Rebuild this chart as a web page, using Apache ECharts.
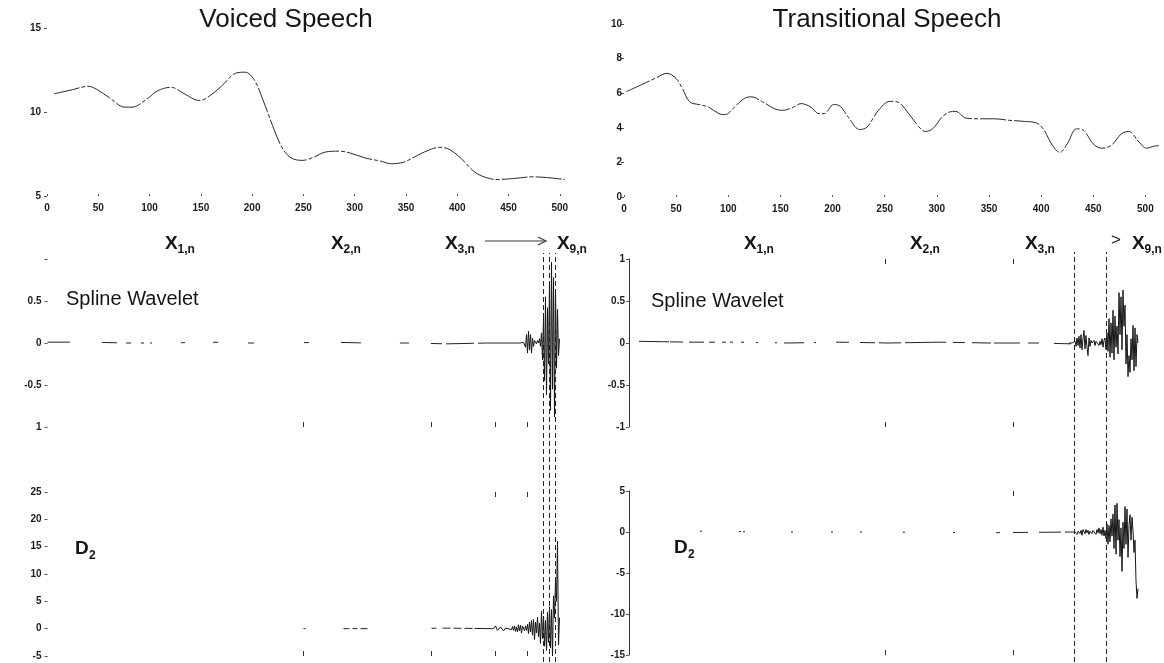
<!DOCTYPE html>
<html>
<head>
<meta charset="utf-8">
<script src="https://cdn.jsdelivr.net/npm/echarts@6/dist/echarts.min.js"></script>
<style>
  html, body { margin: 0; padding: 0; background: #fff; }
  #chart { width: 1164px; height: 663px; }
</style>
</head>
<body>
<div id="chart"></div>
<script>
// ---- Spectral envelopes: sample index and magnitude ----
const voicedEnvIdx = [7, 25, 40, 49, 61, 76, 83, 97, 108, 121, 134, 148, 155, 170, 184, 193, 202, 211, 220, 229, 238, 249, 260, 271, 285, 296, 310, 325, 336, 348, 361, 375, 384, 393, 404, 417, 428, 439, 455, 473, 487, 505];
const voicedEnvVal = [11.08, 11.33, 11.53, 11.33, 10.84, 10.29, 10.29, 10.75, 11.27, 11.47, 11.08, 10.69, 10.80, 11.53, 12.31, 12.37, 11.92, 10.65, 9.18, 7.90, 7.27, 7.12, 7.31, 7.61, 7.67, 7.55, 7.27, 7.08, 6.92, 7.02, 7.41, 7.80, 7.90, 7.75, 7.22, 6.43, 6.10, 5.98, 6.04, 6.14, 6.10, 5.98];

const transEnvIdx = [2, 16, 31, 41, 50, 56, 63, 72, 81, 91, 97, 106, 115, 122, 133, 144, 152, 161, 170, 179, 187, 192, 201, 206, 215, 226, 233, 244, 255, 262, 273, 283, 289, 296, 305, 312, 318, 328, 341, 355, 370, 384, 395, 402, 411, 418, 425, 434, 441, 450, 458, 467, 477, 484, 494, 501, 508, 513];
const transEnvVal = [6.08, 6.47, 6.89, 7.15, 6.85, 6.27, 5.50, 5.34, 5.20, 4.82, 4.76, 5.20, 5.69, 5.79, 5.50, 5.11, 5.01, 5.15, 5.40, 5.20, 4.82, 4.82, 5.34, 5.30, 4.62, 3.90, 4.04, 5.01, 5.53, 5.50, 4.82, 4.04, 3.79, 3.94, 4.62, 4.91, 4.95, 4.56, 4.52, 4.52, 4.43, 4.37, 4.29, 3.94, 2.97, 2.58, 3.07, 3.94, 3.84, 3.07, 2.82, 2.97, 3.65, 3.79, 3.17, 2.82, 2.93, 2.97];

// ---- Spline wavelet coefficients (quiet stretch sampled sparsely, active tail per sample) ----
const voicedSplineQuietIdx = [0, 40, 80, 120, 160, 200, 240, 280, 320, 360, 400, 440, 470];
const voicedSplineQuietVal = [0.01, 0.01, 0.0, 0.0, 0.01, 0.0, 0.0, 0.01, 0.0, 0.0, -0.01, 0.0, 0.0];
const voicedSplineTailStart = 470;
const voicedSplineTail = [0.0, 0.01, -0.01, 0.0, 0.02, -0.02, 0.01, 0.03, -0.05, 0.1,
  -0.12, 0.14, -0.08, 0.1, -0.12, 0.06, -0.04, 0.03, 0.02, -0.01,
  0.03, 0.0, 0.05, -0.04, 0.12, -0.2, 0.3, -0.45, 0.55, -0.62,
  0.42, -0.25, 0.7, -0.8, 0.96, -0.55, 0.78, -0.88, 0.62, -0.3,
  0.4, -0.15, 0.05];

const transSplineQuietIdx = [10, 60, 110, 160, 210, 260, 310, 360, 410, 442];
const transSplineQuietVal = [0.02, 0.01, 0.01, 0.0, 0.01, 0.0, 0.01, 0.0, 0.0, -0.01];
const transSplineTailStart = 440;
const transSplineTail = [0.0, 0.01, -0.01, 0.0, 0.01, -0.01, 0.02, -0.04, 0.06, -0.03,
  0.08, -0.06, 0.1, -0.08, 0.05, 0.15, -0.07, 0.09, -0.05, -0.15,
  0.06, -0.04, 0.03, 0.0, -0.02, 0.03, -0.03, 0.02, 0.0, 0.04,
  -0.03, 0.02, -0.02, 0.05, -0.05, 0.03, 0.06, -0.08, 0.12, -0.1,
  0.29, -0.17, 0.24, -0.12, 0.39, -0.2, 0.32, -0.05, 0.2, -0.13,
  0.6, 0.1, 0.55, -0.08, 0.63, 0.2, 0.45, -0.25, 0.1, -0.4,
  -0.15, -0.35, 0.05, -0.2, 0.21, -0.33, 0.18, -0.28, 0.1, 0.0];

// ---- Detail level D2 ----
const voicedD2QuietIdx = [256, 300, 350, 400, 446];
const voicedD2QuietVal = [0.0, 0.0, 0.0, 0.1, 0.0];
const voicedD2TailStart = 446;
const voicedD2Tail = [0, 0.3, 0.5, 0.2, -0.3, -0.5, -0.2, 0.3, 0.5, 0.1,
  -0.4, -0.3, 0.1, 0.0, -0.1, 0.0, 0.1, 0.2, -0.2, 0.4,
  -0.3, 0.5, -0.5, 0.3, -0.6, 0.7, -0.4, 0.6, -0.8, 0.5,
  0.3, -0.4, 0.5, -0.3, 0.8, -0.9, 1.2, -0.6, 1.5, -1.2,
  1.7, -2.0, 1.2, -0.8, 2.1, -1.5, 1.0, -2.7, 3.2, -1.8,
  2.3, -3.2, 1.5, -4.0, 3.0, -2.5, 4.0, -3.5, 3.5, -5.0,
  6.0, 2.0, 9.0, 5.0, 16.0, -3.0, 2.0];

const transD2QuietIdx = [71, 150, 250, 350, 446];
const transD2QuietVal = [0.1, 0.0, 0.0, -0.1, 0.0];
const transD2TailStart = 446;
const transD2Tail = [0.0, 0.2, -0.3, 0.1, 0.3, -0.2, 0.2, -0.4, 0.3, 0.1,
  -0.2, 0.3, -0.1, 0.2, -0.3, 0.1, 0.3, -0.2, 0.2, 0.0,
  0.4, -0.3, 0.3, -0.1, 0.5, -0.2, 0.3, -0.4, 0.6, -0.5,
  0.2, -0.8, 1.0, -1.5, 0.8, -1.2, 1.6, -0.5, 2.2, -2.0,
  3.3, -2.7, 3.5, -1.0, 1.5, -3.0, 0.5, -4.8, 1.2, -2.0,
  3.1, -1.5, 2.8, -3.1, 0.8, 2.1, -1.0, 1.8, 0.2, -2.5,
  -1.0, -6.0, -8.1, -6.9];

// ---- Sub-band edges and dyadic tick positions ----
const voicedBandEdges = [496, 502, 508];
const transBandEdges = [445, 477];
const voicedDyadicTicks = [256, 384, 448, 480];
const transDyadicTicks = [256, 384];

// ---- Axis label texts ----
const voicedSplineTickText = { '-1': '1', '-0.5': '-0.5', '0': '0', '0.5': '0.5', '1': '' };

const pairs = (xs, ys) => xs.map((x, i) => [x, ys[i]]);
const run = (start, vals) => vals.map((v, i) => [start + i, v]);

const FONT = '"Liberation Sans", Arial, Helvetica, sans-serif';
const INK = '#151515';
const tickLabel = { fontFamily: FONT, fontSize: 10, fontWeight: 'bold', color: '#1a1a1a' };

const chart = echarts.init(document.getElementById('chart'), null, { renderer: 'canvas' });

const grid = [
  { left: 47, top: 28, width: 520, height: 168 },     // 0 voiced envelope
  { left: 624, top: 24, width: 536, height: 173 },    // 1 transitional envelope
  { left: 47.5, top: 259, width: 512, height: 168 },  // 2 voiced spline wavelet
  { left: 629, top: 259, width: 512, height: 168 },   // 3 transitional spline wavelet
  { left: 47.5, top: 492, width: 512, height: 164 },  // 4 voiced D2
  { left: 629, top: 491, width: 512, height: 164 },   // 5 transitional D2
  { left: 47.5, top: 253, width: 512, height: 409 },  // 6 voiced band edges
  { left: 629, top: 252, width: 512, height: 410 }    // 7 transitional band edges
];

const hidden = { show: false };
const noLine = { show: false, onZero: false };
function envX(gi, max) {
  return {
    type: 'value', gridIndex: gi, min: 0, max: max, interval: 50,
    axisLine: noLine, splitLine: hidden,
    axisTick: { show: true, inside: true, length: 2, lineStyle: { color: '#555' } },
    axisLabel: Object.assign({ margin: 7, showMaxLabel: false }, tickLabel)
  };
}
function bandX(gi, pos, ticks) {
  return {
    type: 'value', gridIndex: gi, position: pos, min: 0, max: 512,
    axisLine: noLine, splitLine: hidden, axisLabel: hidden,
    axisTick: { show: true, inside: true, length: 5, customValues: ticks, lineStyle: { color: '#333', width: 1 } }
  };
}
function valY(gi, min, max, step, withLine, margin, fmt) {
  const lbl = Object.assign({ margin: margin }, tickLabel);
  if (fmt) lbl.formatter = fmt;
  return {
    type: 'value', gridIndex: gi, min: min, max: max, interval: step,
    splitLine: hidden,
    axisLine: { show: withLine, onZero: false, lineStyle: { color: '#333', width: 1 } },
    axisTick: { show: true, length: 3, lineStyle: { color: '#555' } },
    axisLabel: lbl
  };
}

const xAxis = [
  envX(0, 507),                               // 0
  envX(1, 514),                               // 1
  bandX(2, 'bottom', voicedDyadicTicks),      // 2
  bandX(3, 'bottom', transDyadicTicks),       // 3
  bandX(4, 'bottom', voicedDyadicTicks),      // 4
  bandX(5, 'bottom', transDyadicTicks),       // 5
  { type: 'value', gridIndex: 6, min: 0, max: 512, show: false },   // 6
  { type: 'value', gridIndex: 7, min: 0, max: 512, show: false },   // 7
  bandX(3, 'top', transDyadicTicks),          // 8
  bandX(4, 'top', [448, 480]),                // 9
  bandX(5, 'top', [384])                      // 10
];
const yAxis = [
  valY(0, 5, 15, 5, false, 6),
  valY(1, 0, 10, 2, false, 2),
  valY(2, -1, 1, 0.5, false, 6, v => voicedSplineTickText[String(v)]),
  valY(3, -1, 1, 0.5, true, 4),
  valY(4, -5, 25, 5, false, 6),
  valY(5, -15, 5, 5, true, 4),
  { type: 'value', gridIndex: 6, min: 0, max: 1, show: false },
  { type: 'value', gridIndex: 7, min: 0, max: 1, show: false }
];

const envStyle = { color: '#2a2a2a', width: 1, type: [26, 2, 4, 2] };
const burstStyle = { color: INK, width: 1 };
function line(ai, data, style, smooth) {
  return {
    type: 'line', xAxisIndex: ai, yAxisIndex: ai, data: data,
    showSymbol: false, smooth: smooth || false, lineStyle: style,
    silent: true, z: 3
  };
}
function quietStyle(dash) {
  return { color: '#222', width: 1, type: dash };
}
function edges(ai, vals) {
  return {
    type: 'line', xAxisIndex: ai, yAxisIndex: ai, data: [], silent: true,
    markLine: {
      symbol: 'none', silent: true, animation: false,
      label: { show: false },
      lineStyle: { color: '#222', width: 1, type: [5, 3] },
      data: vals.map(v => ({ xAxis: v }))
    }
  };
}

const series = [
  line(0, pairs(voicedEnvIdx, voicedEnvVal), envStyle, 0.35),
  line(1, pairs(transEnvIdx, transEnvVal), envStyle, 0.35),

  line(2, pairs(voicedSplineQuietIdx, voicedSplineQuietVal),
    quietStyle([22.5, 32, 15, 9, 5, 10, 3, 6, 2, 29, 4, 28, 5, 30, 6, 50, 5, 32, 20, 39, 9, 22, 11, 4, 28, 4, 60, 0])),
  line(2, run(voicedSplineTailStart, voicedSplineTail), burstStyle),

  line(3, pairs(transSplineQuietIdx, transSplineQuietVal),
    quietStyle([30, 1, 13, 6, 15, 5, 6, 7, 4, 4, 3, 8, 3, 12, 2, 17, 2, 7, 20, 10, 2, 20, 13, 11, 15, 4, 22, 4, 41, 7, 12, 7, 19, 3, 26, 8, 11, 15, 40, 0])),
  line(3, run(transSplineTailStart, transSplineTail), burstStyle),

  line(4, pairs(voicedD2QuietIdx, voicedD2QuietVal),
    quietStyle([2, 38, 6, 3, 5, 3, 7, 64, 5, 6, 8, 3, 8, 3, 8, 2, 30, 0])),
  line(4, run(voicedD2TailStart, voicedD2Tail), burstStyle),

  line(5, pairs(transD2QuietIdx, transD2QuietVal),
    quietStyle([2, 37, 2, 2, 2, 46, 2, 38, 2, 27, 2, 41, 2, 48, 2, 41, 4, 13, 15, 11, 22, 4, 30, 0])),
  line(5, run(transD2TailStart, transD2Tail), burstStyle),

  edges(6, voicedBandEdges),
  edges(7, transBandEdges)
];

// ---- Text annotations ----
const graphic = [];
function text(str, x, y, size, weight, align) {
  graphic.push({
    type: 'text', x: x, y: y, silent: true, z: 10,
    style: {
      text: str, fill: INK, font: (weight || 'normal') + ' ' + size + 'px ' + FONT,
      textAlign: align || 'left', textVerticalAlign: 'middle'
    }
  });
}
function subscripted(main, sub, x, y) {
  text(main, x, y, 19, 'bold');
  text(sub, x + 12.5, y + 6, 12, 'bold');
}

text('Voiced Speech', 286, 20, 26, 'normal', 'center');
text('Transitional Speech', 887, 20, 26, 'normal', 'center');

subscripted('X', '1,n', 165, 244);
subscripted('X', '2,n', 331, 244);
subscripted('X', '3,n', 445, 244);
subscripted('X', '9,n', 557, 244);
subscripted('X', '1,n', 744, 244);
subscripted('X', '2,n', 910, 244);
subscripted('X', '3,n', 1025, 244);
subscripted('X', '9,n', 1132, 244);
text('>', 1111, 240, 17, 'normal');

graphic.push({
  type: 'line', silent: true, z: 10,
  shape: { x1: 485, y1: 241, x2: 545, y2: 241 },
  style: { stroke: '#3a3a3a', lineWidth: 1.2 }
});
graphic.push({
  type: 'polyline', silent: true, z: 10,
  shape: { points: [[538, 237], [546, 241], [538, 245]] },
  style: { stroke: '#3a3a3a', lineWidth: 1.2, fill: null }
});

text('Spline Wavelet', 66, 299, 20, 'normal');
text('Spline Wavelet', 651, 301, 20, 'normal');

text('D', 75, 549, 19, 'bold');
text('2', 89, 556, 12, 'bold');
text('D', 674, 548, 19, 'bold');
text('2', 688, 555, 12, 'bold');

chart.setOption({
  animation: false,
  backgroundColor: '#ffffff',
  grid: grid,
  xAxis: xAxis,
  yAxis: yAxis,
  series: series,
  graphic: graphic
});
</script>
</body>
</html>
